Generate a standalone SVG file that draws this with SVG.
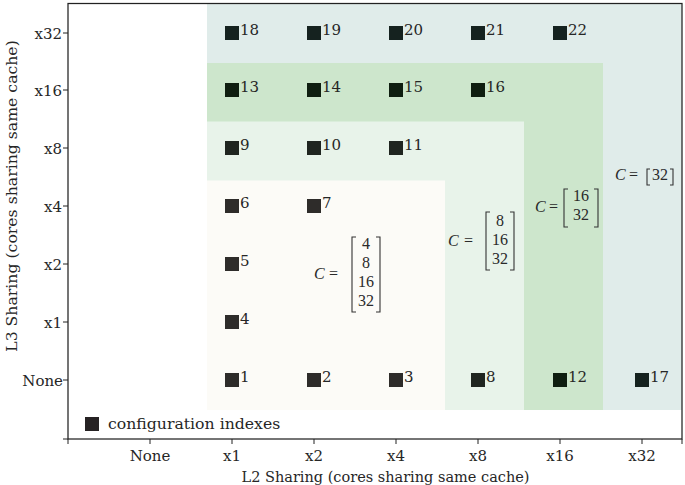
<svg xmlns="http://www.w3.org/2000/svg" width="685" height="485" viewBox="0 0 685 485">
<style>
.t{font-family:"DejaVu Serif",serif;font-size:15px;fill:#262626}
.m{font-family:"Liberation Serif",serif;font-size:16px;fill:#2a2a2a}
.mi{font-style:italic}
.br{fill:none;stroke:#333;stroke-width:1.1}
.tk{stroke:#222;stroke-width:1}
.sqc{fill:#2e2c2a}.sql{fill:#1f2520}.sqg{fill:#0f1e10}.sqb{fill:#15221f}
</style>
<rect width="685" height="485" fill="#ffffff"/>
<g id="regions">
<rect x="207" y="3.5" width="475" height="406.5" fill="#e0ecea"/>
<rect x="207" y="63" width="396" height="347" fill="#cde6cc"/>
<rect x="207" y="121.5" width="317" height="288.5" fill="#e8f3ea"/>
<rect x="207" y="180.5" width="238" height="229.5" fill="#fcfbf7"/>
</g>
<g id="connectors"></g>
<g id="axes">
<rect x="68" y="3.5" width="614" height="435.5" fill="none" stroke="#222" stroke-width="1.25"/>
<g class="tk">
<line x1="68" y1="439" x2="68" y2="444"/><line x1="150" y1="439" x2="150" y2="444"/><line x1="232" y1="439" x2="232" y2="444"/><line x1="314" y1="439" x2="314" y2="444"/><line x1="396" y1="439" x2="396" y2="444"/><line x1="478" y1="439" x2="478" y2="444"/><line x1="560" y1="439" x2="560" y2="444"/><line x1="642" y1="439" x2="642" y2="444"/><line x1="682" y1="439" x2="682" y2="444"/>
<line x1="63" y1="33" x2="68" y2="33"/><line x1="63" y1="90" x2="68" y2="90"/><line x1="63" y1="148" x2="68" y2="148"/><line x1="63" y1="206" x2="68" y2="206"/><line x1="63" y1="264" x2="68" y2="264"/><line x1="63" y1="322" x2="68" y2="322"/><line x1="63" y1="380" x2="68" y2="380"/><line x1="63" y1="439" x2="68" y2="439"/>
</g>
<g class="t" text-anchor="middle">
<text x="150" y="461">None</text><text x="232" y="461">x1</text><text x="314" y="461">x2</text><text x="396" y="461">x4</text><text x="478" y="461">x8</text><text x="560" y="461">x16</text><text x="642" y="461">x32</text>
</g>
<g class="t" text-anchor="end">
<text x="62" y="38.5">x32</text><text x="62" y="95.5">x16</text><text x="62" y="153.5">x8</text><text x="62" y="211.5">x4</text><text x="62" y="269.5">x2</text><text x="62" y="327.5">x1</text><text x="63" y="385.5">None</text>
</g>
<text class="t" x="385.5" y="482" text-anchor="middle" style="font-size:14.5px">L2 Sharing (cores sharing same cache)</text>
<text class="t" transform="translate(17,196) rotate(-90)" text-anchor="middle" style="font-size:15.7px">L3 Sharing (cores sharing same cache)</text>
</g>
<g id="nodes">
<g id="n1"><rect class="sqc" x="225" y="373" width="14" height="14"/><text class="t" x="240" y="382">1</text></g>
<g id="n2"><rect class="sqc" x="307" y="373" width="14" height="14"/><text class="t" x="322" y="382">2</text></g>
<g id="n3"><rect class="sqc" x="389" y="373" width="14" height="14"/><text class="t" x="404" y="382">3</text></g>
<g id="n4"><rect class="sqc" x="225" y="315" width="14" height="14"/><text class="t" x="240" y="324">4</text></g>
<g id="n5"><rect class="sqc" x="225" y="257" width="14" height="14"/><text class="t" x="240" y="266">5</text></g>
<g id="n6"><rect class="sqc" x="225" y="199" width="14" height="14"/><text class="t" x="240" y="208">6</text></g>
<g id="n7"><rect class="sqc" x="307" y="199" width="14" height="14"/><text class="t" x="322" y="208">7</text></g>
<g id="n8"><rect class="sql" x="471" y="373" width="14" height="14"/><text class="t" x="486" y="382">8</text></g>
<g id="n9"><rect class="sql" x="225" y="141" width="14" height="14"/><text class="t" x="240" y="150">9</text></g>
<g id="n10"><rect class="sql" x="307" y="141" width="14" height="14"/><text class="t" x="322" y="150">10</text></g>
<g id="n11"><rect class="sql" x="389" y="141" width="14" height="14"/><text class="t" x="404" y="150">11</text></g>
<g id="n12"><rect class="sqg" x="553" y="373" width="14" height="14"/><text class="t" x="568" y="382">12</text></g>
<g id="n13"><rect class="sqg" x="225" y="83" width="14" height="14"/><text class="t" x="240" y="92">13</text></g>
<g id="n14"><rect class="sqg" x="307" y="83" width="14" height="14"/><text class="t" x="322" y="92">14</text></g>
<g id="n15"><rect class="sqg" x="389" y="83" width="14" height="14"/><text class="t" x="404" y="92">15</text></g>
<g id="n16"><rect class="sqg" x="471" y="83" width="14" height="14"/><text class="t" x="486" y="92">16</text></g>
<g id="n17"><rect class="sqb" x="635" y="373" width="14" height="14"/><text class="t" x="650" y="382">17</text></g>
<g id="n18"><rect class="sqb" x="225" y="26" width="14" height="14"/><text class="t" x="240" y="35">18</text></g>
<g id="n19"><rect class="sqb" x="307" y="26" width="14" height="14"/><text class="t" x="322" y="35">19</text></g>
<g id="n20"><rect class="sqb" x="389" y="26" width="14" height="14"/><text class="t" x="404" y="35">20</text></g>
<g id="n21"><rect class="sqb" x="471" y="26" width="14" height="14"/><text class="t" x="486" y="35">21</text></g>
<g id="n22"><rect class="sqb" x="553" y="26" width="14" height="14"/><text class="t" x="568" y="35">22</text></g>
</g>
<g id="labels">
<g id="c1">
<text class="m mi" x="314" y="279">C</text><text class="m" x="329" y="279">=</text>
<polyline class="br" points="356,237 352,237 352,312 356,312"/><polyline class="br" points="376,237 380,237 380,312 376,312"/>
<g class="m" text-anchor="middle"><text x="366" y="249">4</text><text x="366" y="268">8</text><text x="366" y="287">16</text><text x="366" y="306">32</text></g>
</g>
<g id="c2">
<text class="m mi" x="448" y="246">C</text><text class="m" x="464" y="246">=</text>
<polyline class="br" points="490,212 486,212 486,270 490,270"/><polyline class="br" points="510,212 514,212 514,270 510,270"/>
<g class="m" text-anchor="middle"><text x="500" y="226">8</text><text x="500" y="245">16</text><text x="500" y="264">32</text></g>
</g>
<g id="c3">
<text class="m mi" x="535" y="212">C</text><text class="m" x="549" y="212">=</text>
<polyline class="br" points="568,189 564,189 564,227 568,227"/><polyline class="br" points="594,189 598,189 598,227 594,227"/>
<g class="m" text-anchor="middle"><text x="581" y="201">16</text><text x="581" y="220">32</text></g>
</g>
<g id="c4">
<text class="m mi" x="615" y="180">C</text><text class="m" x="629" y="180">=</text>
<polyline class="br" points="650,169 647,169 647,185 650,185"/><polyline class="br" points="670,169 673,169 673,185 670,185"/>
<text class="m" x="660" y="180" text-anchor="middle">32</text>
</g>
</g>
<g id="legend">
<rect x="85" y="417" width="14" height="14" fill="#262223"/>
<text class="t" x="108" y="429" style="font-size:15.7px">configuration indexes</text>
</g>
</svg>
